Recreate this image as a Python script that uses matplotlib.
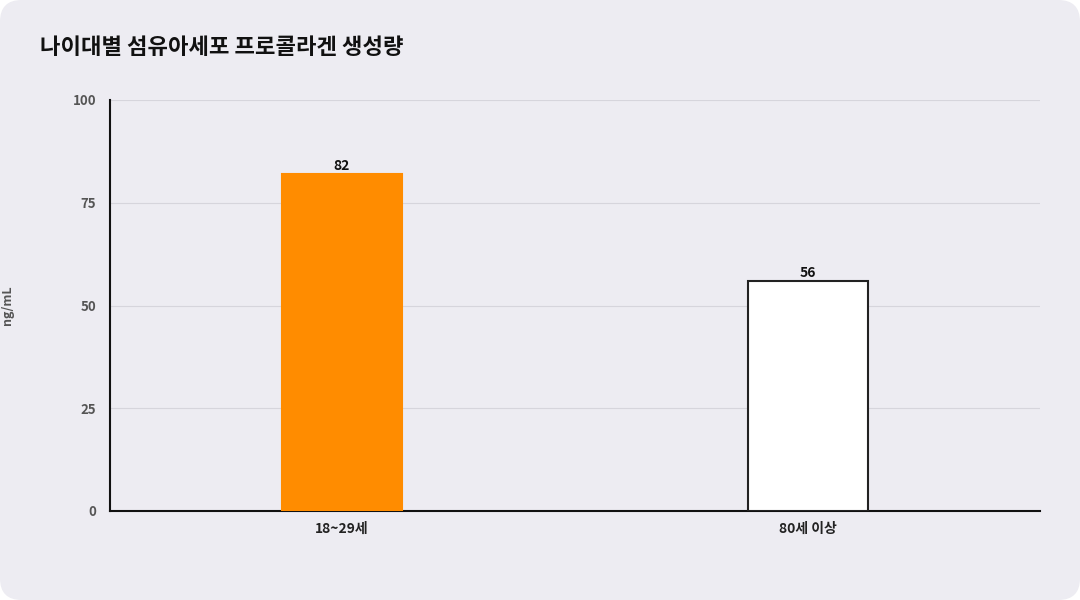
import matplotlib
matplotlib.use("Agg")
import matplotlib.pyplot as plt
from matplotlib.patches import FancyBboxPatch

plt.rcParams['font.family'] = ['Noto Sans CJK KR', 'DejaVu Sans']

categories = ["18~29세", "80세 이상"]
values = [82, 56]
face_colors = ["#ff8c00", "#ffffff"]
edge_colors = ["#ff8c00", "#222222"]
yticks = [0, 25, 50, 75, 100]

fig = plt.figure(figsize=(10.8, 6.0), dpi=100)
fig.patch.set_facecolor("white")
bg = FancyBboxPatch((0, 0), 1, 1, boxstyle="round,pad=0,rounding_size=0.02",
                    transform=fig.transFigure, facecolor="#edecf2",
                    edgecolor="none", zorder=-10, mutation_aspect=1.8)
fig.patches.append(bg)

ax = fig.add_axes([110/1080, 89/600, 930/1080, 411/600])
ax.set_facecolor("none")
x = list(range(len(categories)))
ax.bar(x, values, width=0.258, color=face_colors, edgecolor=edge_colors,
       linewidth=1.5, zorder=3)
for xi, v in zip(x, values):
    ax.text(xi, v + 0.3, str(v), ha="center", va="bottom", fontsize=10,
            fontweight="bold", color="#111111", zorder=4)

ax.set_xlim(-0.498, 1.498)
ax.set_ylim(0, 100)
ax.set_yticks(yticks)
ax.set_xticks(x)
ax.set_xticklabels(categories, fontsize=10, fontweight="bold", color="#222222")
ax.tick_params(axis="y", labelsize=9.5, colors="#555555", length=0, pad=10)
ax.tick_params(axis="x", length=0, pad=8)
for lbl in ax.get_yticklabels():
    lbl.set_fontweight("bold")
ax.grid(axis="y", color="#d6d5dc", linewidth=0.8, zorder=0)
for s in ["top", "right"]:
    ax.spines[s].set_visible(False)
ax.spines["left"].set_linewidth(1.5)
ax.spines["bottom"].set_linewidth(1.5)
ax.spines["left"].set_color("#111111")
ax.spines["bottom"].set_color("#111111")
ax.set_ylabel("ng/mL", fontsize=9, fontweight="bold", color="#555555", labelpad=42)

fig.text(40/1080, 1 - 47/600, "나이대별 섬유아세포 프로콜라겐 생성량", fontsize=16,
         fontweight="bold", color="#111111", va="center", ha="left")

fig.savefig("out.png", dpi=100, facecolor="white")
